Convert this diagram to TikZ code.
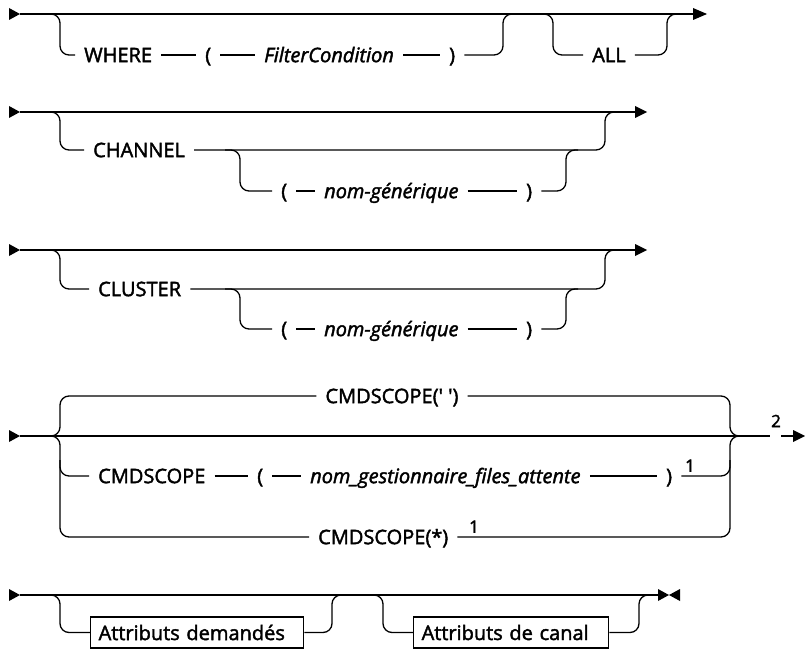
\documentclass[tikz,border=0pt]{standalone}
\usepackage{fontspec}
\setmainfont{Open Sans}[FakeBold=2]
\usetikzlibrary{positioning}
\begin{document}
\begin{tikzpicture}[x=1pt,y=-1pt,
  rail/.style={line width=1.3pt},
  rc/.style={line width=1.3pt, rounded corners=9pt},
  tok/.style={inner xsep=9pt, inner ysep=0pt, text height=14.3pt, text depth=0pt, font=\fontsize{20}{24}\selectfont},
  var/.style={tok, font=\fontsize{20}{24}\selectfont\itshape},
  note/.style={inner sep=1pt, font=\fontsize{17}{20}\selectfont},
  boxed/.style={draw, line width=1.3pt, inner xsep=8pt, inner ysep=0pt, minimum height=31pt, align=left, font=\fontsize{20}{24}\selectfont}
]
\useasboundingbox (0,0) rectangle (805,650);

% ---------- Row 1 ----------
\fill (9,8) -- (20,14) -- (9,20) -- cycle;
\draw[rail] (20,14) -- (693,14);
\fill (693,8) -- (707,14) -- (693,20) -- cycle;
\node[tok,anchor=west] (where) at (75,55) {WHERE};
\node[tok,anchor=west] (lp1) at (196,55) {(};
\node[var,anchor=west] (fc) at (255,55) {FilterCondition};
\node[tok,anchor=west] (rp1) at (440,55) {)};
\draw[rc] (45,14) -- (60,14) -- (60,55) -- (where);
\draw[rail] (where) -- (lp1);
\draw[rail] (lp1) -- (fc);
\draw[rail] (fc) -- (rp1);
\draw[rc] (rp1) -- (503,55) -- (503,14) -- (515,14);
\node[tok] (all) at (609,55) {ALL};
\draw[rc] (533,14) -- (553,14) -- (553,55) -- (all);
\draw[rc] (all) -- (667,55) -- (667,14) -- (680,14);

% ---------- Row 2 ----------
\fill (9,106) -- (20,112) -- (9,118) -- cycle;
\draw[rail] (20,112) -- (635,112);
\fill (635,106) -- (647,112) -- (635,118) -- cycle;
\node[tok,anchor=west] (chan) at (84,150) {CHANNEL};
\draw[rc] (45,112) -- (60,112) -- (60,150) -- (chan);
\draw[rc] (chan) -- (605,150) -- (605,112) -- (618,112);
\node[tok,anchor=west] (lp2) at (272,191) {(};
\node[var,anchor=west] (ng2) at (315,191) {nom-générique};
\node[tok,anchor=west] (rp2) at (517,191) {)};
\draw[rc] (225,150) -- (240,150) -- (240,191) -- (lp2);
\draw[rail] (lp2) -- (ng2);
\draw[rail] (ng2) -- (rp2);
\draw[rc] (rp2) -- (566,191) -- (566,150) -- (578,150);

% ---------- Row 3 ----------
\fill (9,244) -- (20,250) -- (9,256) -- cycle;
\draw[rail] (20,250) -- (635,250);
\fill (635,244) -- (647,250) -- (635,256) -- cycle;
\node[tok,anchor=west] (clus) at (89,289) {CLUSTER};
\draw[rc] (45,250) -- (60,250) -- (60,289) -- (clus);
\draw[rc] (clus) -- (605,289) -- (605,250) -- (618,250);
\node[tok,anchor=west] (lp3) at (272,329) {(};
\node[var,anchor=west] (ng3) at (315,329) {nom-générique};
\node[tok,anchor=west] (rp3) at (517,329) {)};
\draw[rc] (225,289) -- (240,289) -- (240,329) -- (lp3);
\draw[rail] (lp3) -- (ng3);
\draw[rail] (ng3) -- (rp3);
\draw[rc] (rp3) -- (566,329) -- (566,289) -- (578,289);

% ---------- Row 4 ----------
\fill (9,430) -- (20,436) -- (9,442) -- cycle;
\draw[rail] (20,436) -- (770,436);
\node[note] (n2) at (776,421) {2};
\draw[rail] (781,436) -- (793,436);
\fill (793,430) -- (805,436) -- (793,442) -- cycle;
\node[tok] (c1) at (392,396) {CMDSCOPE(\textquotesingle\ \textquotesingle)};
\draw[rc] (45,436) -- (60,436) -- (60,396) -- (c1);
\draw[rc] (c1) -- (730,396) -- (730,436) -- (745,436);
\node[tok,anchor=west] (cmd2) at (89,476) {CMDSCOPE};
\node[tok,anchor=west] (lp4) at (248,476) {(};
\node[var,anchor=west] (qm) at (301,476) {nom\_gestionnaire\_files\_attente};
\node[tok,anchor=west] (rp4) at (657,476) {)};
\node[note,anchor=south] (n1a) at (690,473) {1};
\draw[rc] (60,460) -- (60,476) -- (cmd2);
\draw[rail] (cmd2) -- (lp4);
\draw[rail] (lp4) -- (qm);
\draw[rail] (qm) -- (rp4);
\draw[rc] (rp4) -- (730,476) -- (730,460);
\node[tok,anchor=west] (c3) at (309,537) {CMDSCOPE(*)};
\node[note,anchor=south] (n1b) at (474,534) {1};
\draw[rc] (45,436) -- (60,436) -- (60,537) -- (c3);
\draw[rc] (c3) -- (730,537) -- (730,436) -- (745,436);

% ---------- Row 5 ----------
\fill (9,589) -- (20,595) -- (9,601) -- cycle;
\draw[rail] (20,595) -- (658,595);
\fill (658,589) -- (669,595) -- (658,601) -- cycle;
\fill (680,589) -- (669,595) -- (680,601) -- cycle;
\node[boxed,anchor=west,text width=197pt] (b1) at (90,632.5) {Attributs demandés};
\draw[rc] (45,595) -- (60,595) -- (60,632.5) -- (b1);
\draw[rc] (b1) -- (332,632.5) -- (332,595) -- (345,595);
\node[boxed,anchor=west,text width=179pt] (b2) at (413,632.5) {Attributs de canal};
\draw[rc] (365,595) -- (383,595) -- (383,632.5) -- (b2);
\draw[rc] (b2) -- (639,632.5) -- (639,595) -- (652,595);
\end{tikzpicture}
\end{document}
